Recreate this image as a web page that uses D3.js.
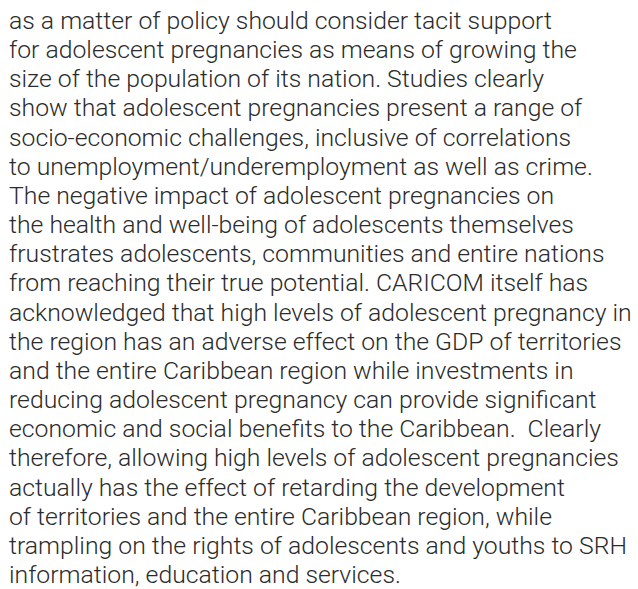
<!DOCTYPE html>
<meta charset="utf-8">
<style>
body { margin: 0; background: #fff; }
text { font-family: Roboto, "Noto Sans", sans-serif; font-weight: 300; fill: #2b2b2b; white-space: pre; }
</style>
<body>
<svg width="638" height="589"></svg>
<script src="https://d3js.org/d3.v7.min.js"></script>
<script>

var lines = [
  "as a matter of policy should consider tacit support",
  "for adolescent pregnancies as means of growing the",
  "size of the population of its nation. Studies clearly",
  "show that adolescent pregnancies present a range of",
  "socio-economic challenges, inclusive of correlations",
  "to unemployment/underemployment as well as crime.",
  "The negative impact of adolescent pregnancies on",
  "the health and well-being of adolescents themselves",
  "frustrates adolescents, communities and entire nations",
  "from reaching their true potential. CARICOM itself has",
  "acknowledged that high levels of adolescent pregnancy in",
  "the region has an adverse effect on the GDP of territories",
  "and the entire Caribbean region while investments in",
  "reducing adolescent pregnancy can provide significant",
  "economic and social benefits to the Caribbean.  Clearly",
  "therefore, allowing high levels of adolescent pregnancies",
  "actually has the effect of retarding the development",
  "of territories and the entire Caribbean region, while",
  "trampling on the rights of adolescents and youths to SRH",
  "information, education and services."
];

var svg = d3.select("svg");

var y = d3.scalePoint()
  .domain(d3.range(lines.length))
  .range([29, 583]);

var txt = svg.selectAll(".line")
  .data(lines)
  .enter().append("text")
  .attr("class", "line")
  .attr("x", 9)
  .attr("y", function(d, i){ return y(i); })
  .style("font-size", "20px")
  .text(function(d){ return d; });

// fit the widest line to the column width
var widest = d3.max(txt.nodes(), function(n){ return n.getComputedTextLength(); });
var size = 20 * 623 / widest;
txt.style("font-size", size + "px");

</script>
</body>
